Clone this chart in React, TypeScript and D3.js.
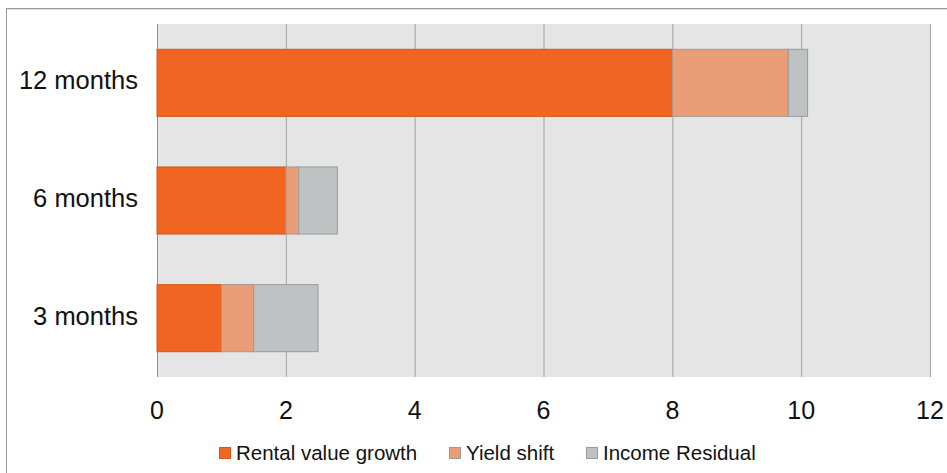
import React from "react";
import * as d3 from "d3";

const categories = ["12 months", "6 months", "3 months"];
const seriesNames = ["Rental value growth", "Yield shift", "Income Residual"];
const rentalValueGrowth = [8.0, 2.0, 1.0];
const yieldShift = [1.8, 0.2, 0.5];
const incomeResidual = [0.3, 0.6, 1.0];
const xTicks = [0, 2, 4, 6, 8, 10, 12];

const fills = ["#F06522", "#EB9D77", "#BEC2C3"];
const strokes = ["#D4561A", "#A09A96", "#999C9D"];

const width = 947;
const height = 473;
const margin = { left: 157, right: 17, top: 24, bottom: 96 };
const font = "'Liberation Sans', Arial, Helvetica, sans-serif";

export default function App() {
  const rows = categories.map((c, i) => ({
    category: c,
    "Rental value growth": rentalValueGrowth[i],
    "Yield shift": yieldShift[i],
    "Income Residual": incomeResidual[i],
  }));
  const stacked = d3.stack<any>().keys(seriesNames)(rows);

  const x = d3
    .scaleLinear()
    .domain([0, 12])
    .range([margin.left, width - margin.right]);
  const y = d3
    .scaleBand()
    .domain(categories)
    .range([margin.top, height - margin.bottom])
    .paddingInner(0.43)
    .paddingOuter(0.215);

  const plotBottom = height - margin.bottom;

  const legendX = [219, 449, 586];

  return (
    <svg
      width={width}
      height={height}
      style={{ position: "absolute", left: 0, top: 0, background: "#fff" }}
    >
      {/* outer frame */}
      <rect x={6.5} y={8.5} width={960} height={480} fill="none" stroke="#9a9a9a" />
      <line x1={7} x2={width} y1={9.5} y2={9.5} stroke="#e2e2e2" />

      {/* plot background */}
      <rect
        x={x(0)}
        y={margin.top}
        width={x(12) - x(0)}
        height={plotBottom - margin.top}
        fill="#E5E5E5"
      />
      {xTicks.map((t) => (
        <line
          key={t}
          x1={x(t) + 0.5}
          x2={x(t) + 0.5}
          y1={margin.top}
          y2={plotBottom}
          stroke={t === 0 ? "#8c8c8c" : "#a3a3a3"}
          strokeWidth={1}
        />
      ))}

      {/* bars */}
      {stacked.map((s, si) => (
        <g key={s.key}>
          {s.map((d, i) => (
            <rect
              key={i}
              x={x(d[0])}
              y={y(categories[i])!}
              width={x(d[1]) - x(d[0])}
              height={y.bandwidth()}
              fill={fills[si]}
              stroke={strokes[si]}
              strokeWidth={1}
            />
          ))}
        </g>
      ))}

      {/* category labels */}
      {categories.map((c) => (
        <text
          key={c}
          x={138}
          y={y(c)! + y.bandwidth() / 2 + 6.5}
          textAnchor="end"
          fontFamily={font}
          fontSize={25.5}
          fill="#111"
        >
          {c}
        </text>
      ))}

      {/* x tick labels */}
      {xTicks.map((t) => (
        <text
          key={t}
          x={x(t)}
          y={419}
          textAnchor="middle"
          fontFamily={font}
          fontSize={25}
          fill="#111"
        >
          {t}
        </text>
      ))}

      {/* legend */}
      {seriesNames.map((n, i) => (
        <g key={n}>
          <rect
            x={legendX[i] + 0.5}
            y={447.5}
            width={11}
            height={11}
            fill={fills[i]}
            stroke={strokes[i]}
          />
          <text
            x={legendX[i] + 17}
            y={459.5}
            fontFamily={font}
            fontSize={20.5}
            fill="#111"
          >
            {n}
          </text>
        </g>
      ))}
    </svg>
  );
}
